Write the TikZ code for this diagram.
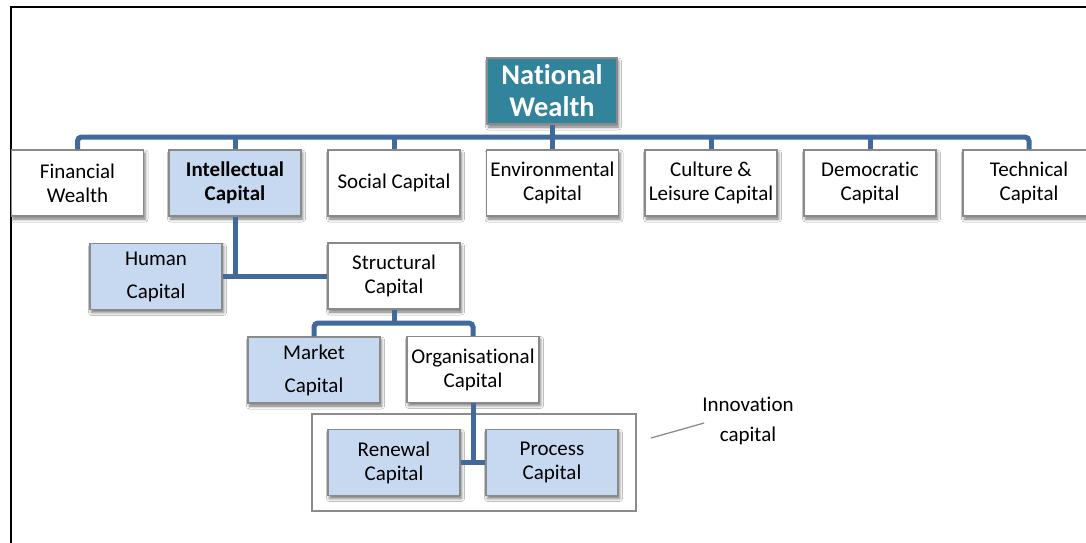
\documentclass[tikz,border=0pt]{standalone}
\usepackage{fontspec}
\setmainfont{Carlito}[Ligatures=NoCommon]
\usetikzlibrary{shadows.blur}
\definecolor{linkblue}{RGB}{65,105,155}
\definecolor{tealbox}{RGB}{49,132,155}
\definecolor{paleblue}{RGB}{198,217,241}
\definecolor{boxedge}{RGB}{138,138,138}
\tikzset{
  conn/.style={draw=linkblue, line width=5pt},
  card/.style={draw=boxedge, line width=1.1pt, fill=white, minimum width=132, minimum height=66,
    inner sep=0pt, align=center, font=\fontsize{21}{24}\selectfont,
    blur shadow={shadow xshift=1.5pt, shadow yshift=-3pt, shadow blur radius=3pt, shadow opacity=55}},
  bluecard/.style={card, fill=paleblue},
  widecard/.style={bluecard, font=\fontsize{21}{33}\selectfont},
  topcard/.style={card, fill=tealbox, minimum width=130, text=white,
    font=\fontsize{28.5}{32}\selectfont\bfseries},
  groupframe/.style={draw=gray!90, line width=1.6pt, minimum width=324, minimum height=97, inner sep=0pt},
  callout/.style={draw=gray!90, line width=1.3pt},
  note/.style={inner sep=0pt, align=center, font=\fontsize{21}{30}\selectfont}
}
\begin{document}
\begin{tikzpicture}[x=1pt, y=-1pt]
\useasboundingbox (0,0) rectangle (1086,542);
\clip (0,0) rectangle (1086,542);
\fill[white] (0,0) rectangle (1086,542);
% outer frame
\draw[black, line width=1.4pt] (11,560) -- (11,7) -- (1100,7);

% bus levels
\coordinate (busA) at (0,137);
\coordinate (busB) at (0,323);

% root
\node[topcard] (nat) at (552,91) {National\\Wealth};

% first level
\node[card] (fin) at (77.5,183) {Financial\\Wealth};
\node[bluecard, font=\fontsize{21}{24}\selectfont\bfseries] (int) at (235,183) {Intellectual\\Capital};
\node[card] (soc) at (394,183) {Social Capital};
\node[card] (env) at (552.5,183) {Environmental\\Capital};
\node[card] (cul) at (711,183) {Culture \&\\Leisure Capital};
\node[card] (dem) at (870,183) {Democratic\\Capital};
\node[card] (tec) at (1029,183) {Technical\\Capital};

% second level
\node[widecard] (hum) at (156,276.5) {Human\\Capital};
\node[card] (str) at (394,276) {Structural\\Capital};

% third level
\node[widecard] (mkt) at (314,370) {Market\\Capital};
\node[card] (org) at (473,369.5) {Organisational\\Capital};

% innovation group
\node[groupframe] (inno) at (474,462.5) {};
\node[bluecard] (ren) at (394,462.5) {Renewal\\Capital};
\node[bluecard] (pro) at (552,462.5) {Process\\Capital};

\node[note] (lab) at (748,421) {Innovation\\capital};
\coordinate (calloutfoot) at (651,438);
\draw[callout] (calloutfoot) -- ([xshift=2pt,yshift=-2pt]lab.west);

% connectors
\draw[conn, rounded corners=4pt] (fin.north) -- (fin.north |- busA) -- (tec.north |- busA) -- (tec.north);
\foreach \n in {int,soc,env,cul,dem}
  \draw[conn] (\n.north) -- (\n.north |- busA);
\draw[conn] (nat.south) -- (nat.south |- busA);

\draw[conn] (int.south) -- (int.south |- hum.east);
\draw[conn] (hum.east) -- (str.west |- hum.east);

\draw[conn] (str.south) -- (str.south |- busB);
\draw[conn, rounded corners=4pt] (mkt.north) -- (mkt.north |- busB) -- (org.north |- busB) -- (org.north);

\draw[conn] (org.south) -- (org.south |- ren.east);
\draw[conn] (ren.east) -- (pro.west);
\end{tikzpicture}
\end{document}
